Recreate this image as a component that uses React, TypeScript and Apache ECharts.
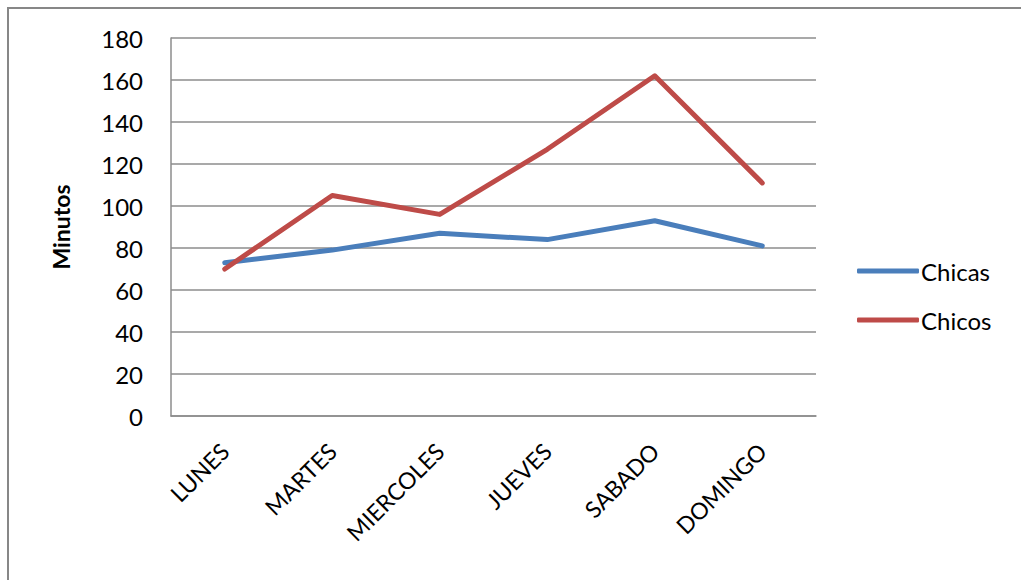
import React, { useEffect, useRef } from "react";
import * as echarts from "echarts";

// Days of the week on the category axis
const days = ["LUNES", "MARTES", "MIERCOLES", "JUEVES", "SABADO", "DOMINGO"];

// Minutes per day for each group
const chicas = [73, 79, 87, 84, 93, 81];
const chicos = [70, 105, 96, 127, 162, 111];

// Value axis range
const yMin = 0;
const yMax = 180;
const yStep = 20;

const FONT = "Lato, 'Open Sans', sans-serif";

export default function App() {
  const ref = useRef<HTMLDivElement>(null);

  useEffect(() => {
    if (!ref.current) return;
    const chart = echarts.init(ref.current, undefined, { renderer: "svg" });
    chart.setOption({
      animation: false,
      backgroundColor: "#ffffff",
      textStyle: { fontFamily: FONT },
      graphic: [
        {
          type: "rect",
          shape: { x: 8, y: 8, width: 1100, height: 700 },
          style: { fill: "none", stroke: "#878787", lineWidth: 2 },
          silent: true,
        },
      ],
      grid: { left: 171, top: 38, right: 205, bottom: 164, containLabel: false },
      legend: {
        orient: "vertical",
        left: 852,
        top: 254,
        itemWidth: 62,
        itemHeight: 5,
        itemGap: 25,
        icon: "roundRect",
        textStyle: {
          fontSize: 24,
          lineHeight: 24,
          color: "#000",
          fontFamily: FONT,
          padding: [0, 0, 0, -3],
        },
        data: ["Chicas", "Chicos"],
      },
      xAxis: {
        type: "category",
        data: days,
        boundaryGap: true,
        axisLine: { show: true, lineStyle: { color: "#8c8c8c", width: 1.5 } },
        axisTick: { show: false },
        axisLabel: {
          rotate: 45,
          margin: 31,
          fontSize: 23,
          color: "#000",
          fontFamily: FONT,
        },
        splitLine: { show: false },
      },
      yAxis: {
        type: "value",
        min: yMin,
        max: yMax,
        interval: yStep,
        name: "Minutos",
        nameLocation: "middle",
        nameRotate: 90,
        nameGap: 99,
        nameTextStyle: { fontSize: 23, fontWeight: "bold", color: "#000", fontFamily: FONT },
        axisLine: { show: true, lineStyle: { color: "#8c8c8c", width: 1.5 } },
        axisTick: { show: false },
        axisLabel: { fontSize: 24, color: "#000", margin: 28, fontFamily: FONT },
        splitLine: { show: true, lineStyle: { color: "#8c8c8c", width: 1.5 } },
      },
      series: [
        {
          name: "Chicas",
          type: "line",
          data: chicas,
          symbol: "none",
          lineStyle: { color: "#4A7EBB", width: 5, cap: "round", join: "round" },
          itemStyle: { color: "#4A7EBB" },
        },
        {
          name: "Chicos",
          type: "line",
          data: chicos,
          symbol: "none",
          lineStyle: { color: "#BE4B48", width: 5, cap: "round", join: "round" },
          itemStyle: { color: "#BE4B48" },
        },
      ],
    });
    return () => chart.dispose();
  }, []);

  return (
    <div
      ref={ref}
      style={{ position: "absolute", left: 0, top: 0, width: 1021, height: 580 }}
    />
  );
}
